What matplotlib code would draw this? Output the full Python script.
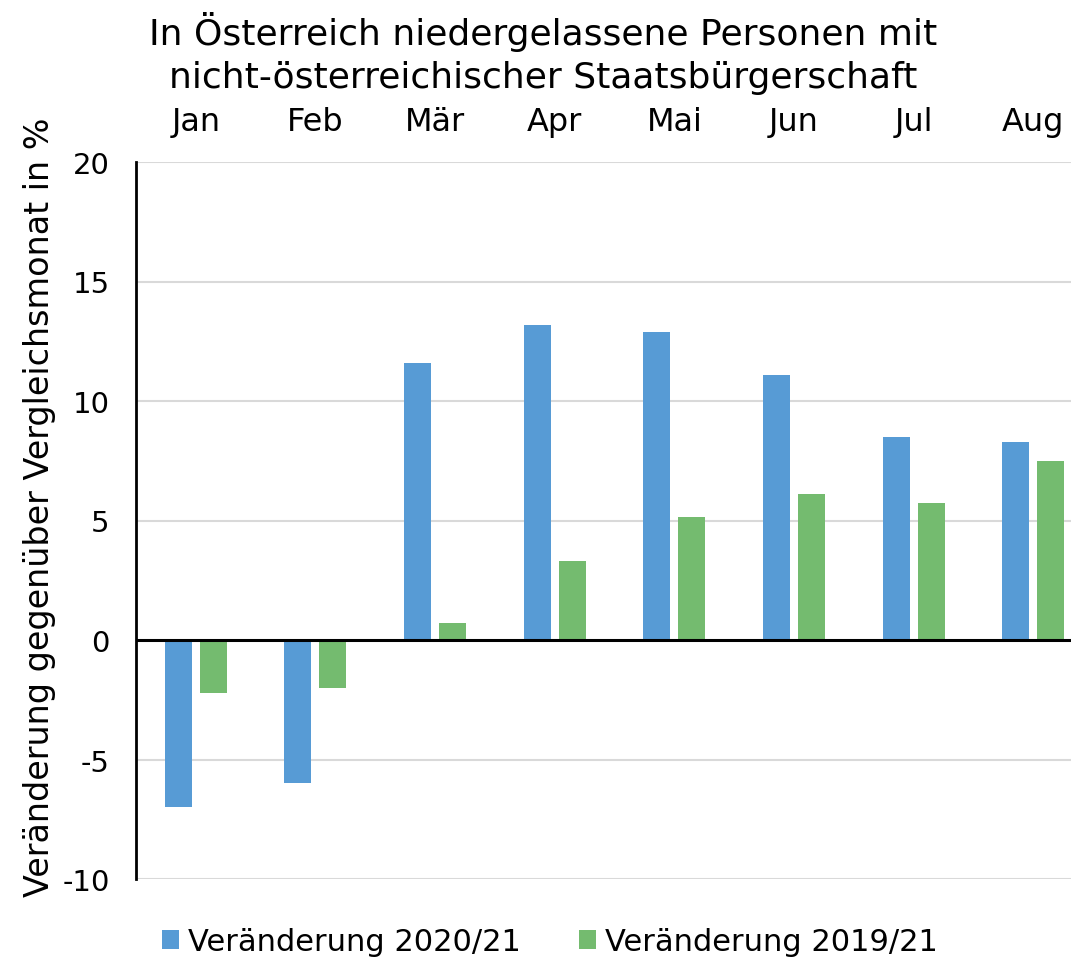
import numpy as np
import matplotlib.pyplot as plt

months = ["Jan", "Feb", "Mär", "Apr", "Mai", "Jun", "Jul", "Aug"]
change_2020_21 = [-7.0, -6.0, 11.6, 13.2, 12.9, 11.1, 8.5, 8.3]
change_2019_21 = [-2.2, -2.0, 0.7, 3.3, 5.15, 6.1, 5.75, 7.5]
yticks = [-10, -5, 0, 5, 10, 15, 20]

blue = "#579BD5"
green = "#74BB6F"

plt.rcParams["font.family"] = ["DejaVu Sans"]

fig = plt.figure(figsize=(10.71, 9.62), dpi=100)
# axis runs past the right edge of the figure, as in the original crop
ax = fig.add_axes([136 / 1071, 1 - 880 / 962, 957 / 1071, 717 / 962])

x = np.arange(len(months))
width = 0.226
off = 0.146
ax.bar(x - off, change_2020_21, width, color=blue, label="Veränderung 2020/21", zorder=3)
ax.bar(x + off, change_2019_21, width, color=green, label="Veränderung 2019/21", zorder=3)

ax.set_xlim(-0.5, len(months) - 0.5)
ax.set_ylim(-10, 20)
ax.set_yticks(yticks)
ax.set_yticklabels([str(t) for t in yticks], fontsize=21)
for t in yticks:
    if t != 0:
        ax.axhline(t, color="#d9d9d9", lw=1.5, zorder=1)
ax.axhline(0, color="black", lw=2.2, zorder=4)

ax.xaxis.tick_top()
ax.set_xticks(x)
ax.set_xticklabels(months, fontsize=23)
ax.tick_params(axis="x", length=0, pad=18)
ax.tick_params(axis="y", length=0, pad=19)

for s in ["top", "right", "bottom"]:
    ax.spines[s].set_visible(False)
ax.spines["left"].set_linewidth(2)
ax.spines["left"].set_color("black")

ax.set_ylabel("Veränderung gegenüber Vergleichsmonat in %", fontsize=24)
ax.yaxis.set_label_coords(-0.084, 0.52)

title_lines = ["In Österreich niedergelassene Personen mit",
               "nicht-österreichischer Staatsbürgerschaft"]
fig.text(543 / 1071, 1 - 45 / 962, title_lines[0], ha="center", va="baseline", fontsize=26)
fig.text(543 / 1071, 1 - 88 / 962, title_lines[1], ha="center", va="baseline", fontsize=26)

fig.legend(loc="center", bbox_to_anchor=(550 / 1071, 1 - 943 / 962), ncol=2,
           fontsize=22, frameon=False, handlelength=0.56, handleheight=0.56,
           handletextpad=0.3, columnspacing=1.9)

fig.savefig("out.png", dpi=100)
